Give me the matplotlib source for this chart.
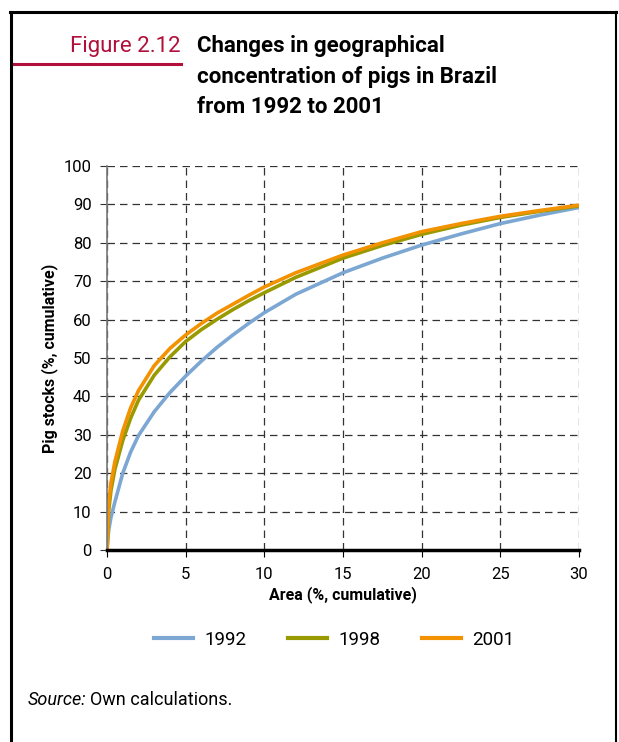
import numpy as np
import matplotlib.pyplot as plt
from matplotlib.lines import Line2D

plt.rcParams['font.family'] = ['Roboto', 'DejaVu Sans']

# cumulative area (%) and cumulative pig stocks (%)
area = [0, 0.1, 0.25, 0.5, 1, 1.5, 2, 3, 4, 5, 6, 7, 8, 9, 10, 12, 15, 17.5, 20, 22.5, 25, 27.5, 30]
stocks_1992 = [0, 5, 8.5, 12.5, 20, 25.5, 29.8, 36, 41, 45.3, 49.2, 52.8, 56, 59, 61.8,
               66.6, 72.2, 76, 79.4, 82.3, 85, 87.2, 89.2]
stocks_1998 = [0, 10, 15.5, 21, 28.5, 34.3, 39, 45.5, 50.3, 54.3, 57.4, 60.1, 62.6, 64.9, 67,
               71, 76, 79.3, 82.2, 84.6, 86.6, 88.2, 89.6]
stocks_2001 = [0, 12, 17.5, 23, 31, 37, 41.5, 48, 52.5, 56, 59, 61.7, 64, 66.3, 68.5,
               72.2, 76.8, 80, 82.9, 85, 86.9, 88.4, 89.8]

years = ["1992", "1998", "2001"]
colors = ["#7ba7d2", "#999900", "#f39200"]
xticks = [0, 5, 10, 15, 20, 25, 30]
yticks = list(range(0, 101, 10))

fig = plt.figure(figsize=(6.19, 7.42), dpi=100)
ax = fig.add_axes([0.1729, 0.2588, 0.7625, 0.5175])

for yr, vals, c in zip(years, [stocks_1992, stocks_1998, stocks_2001], colors):
    ax.plot(area, vals, color=c, lw=2.6, label=yr)

ax.set_xlim(0, 30)
ax.set_ylim(0, 100)
ax.set_xticks(xticks)
ax.set_yticks(yticks)
ax.grid(True, color="#333333", linestyle=(0, (6, 4)), lw=0.9)
ax.set_axisbelow(True)
for s in ["top", "right"]:
    ax.spines[s].set_visible(False)
ax.spines["left"].set_color("#777777")
ax.spines["left"].set_linewidth(1.2)
ax.spines["bottom"].set_color("black")
ax.spines["bottom"].set_linewidth(2.5)
ax.spines["bottom"].set_zorder(5)
ax.tick_params(axis="y", length=5, color="#333333", labelsize=12, pad=6)
ax.tick_params(axis="x", length=5, color="black", labelsize=12, pad=7)
ax.set_xlabel("Area (%, cumulative)", fontsize=11.5, fontweight="bold", labelpad=3)
ax.set_ylabel("Pig stocks (%, cumulative)", fontsize=11.5, fontweight="bold", labelpad=4)

handles = [Line2D([0], [0], color=c, lw=3) for c in colors]
fig.legend(handles, years, loc="center", bbox_to_anchor=(0.54, 0.1375), ncol=3,
           frameon=False, fontsize=13.5, handlelength=2.1, columnspacing=2.2, handletextpad=0.6)

# header
fig.text(0.292, 0.937, "Figure 2.12", color="#b0103a", fontsize=16, ha="right", va="center")
fig.text(0.318, 0.9526, "Changes in geographical\nconcentration of pigs in Brazil\nfrom 1992 to 2001",
         fontsize=16, fontweight="bold", ha="left", va="top", linespacing=1.5)
fig.add_artist(Line2D([0.019, 0.293], [0.914, 0.914], color="#b0103a", lw=2.2))

# source note
src = fig.text(0.045, 0.057, "Source:", fontsize=13, style="italic", ha="left", va="center")
r = fig.canvas.get_renderer()
bb = src.get_window_extent(renderer=r)
fig.text(bb.x1 / fig.bbox.width + 0.006, 0.057, "Own calculations.", fontsize=13, ha="left", va="center")

# frame
fig.add_artist(Line2D([0.017, 0.017], [0.0, 0.984], color="black", lw=2.2))
fig.add_artist(Line2D([0.016, 0.995], [0.984, 0.984], color="black", lw=2.2))
fig.add_artist(Line2D([0.995, 0.995], [0.0, 0.984], color="black", lw=1.5))

fig.savefig("out.png", dpi=100)
